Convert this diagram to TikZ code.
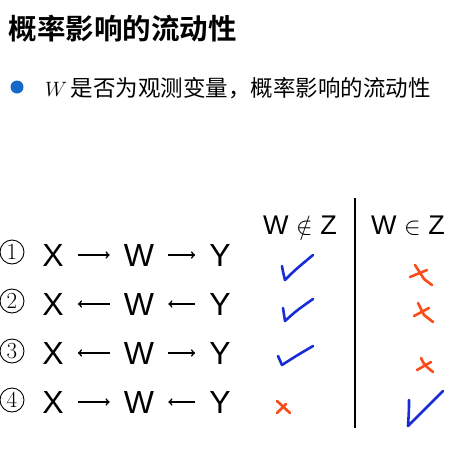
\documentclass[tikz,border=0pt]{standalone}
\usepackage{fontspec}
\setsansfont{Liberation Sans}
\newfontfamily\cjk{Noto Sans CJK SC}[BoldFont={Noto Sans CJK SC Bold}]
\definecolor{tickblue}{RGB}{25,45,215}
\definecolor{crossred}{RGB}{250,75,25}
\definecolor{dotblue}{RGB}{20,105,200}
\tikzset{
  var/.style={font=\sffamily\fontsize{32}{32}\selectfont, inner sep=1pt},
  rowno/.style={draw, circle, line width=0.9pt, minimum size=24pt, inner sep=0pt, font=\rmfamily\fontsize{23}{23}\selectfont},
  flow/.style={->, line width=1.6pt, shorten <=13pt, shorten >=13pt},
  colhead/.style={font=\sffamily\fontsize{27}{27}\selectfont},
  tick/.style={draw=tickblue, line width=2.6pt, line cap=round, line join=round},
  cross/.style={draw=crossred, line width=2.6pt, line cap=round},
}
\begin{document}
\begin{tikzpicture}[x=1pt,y=-1pt]
\useasboundingbox (0,0) rectangle (469,453);
\fill[white] (0,0) rectangle (469,453);

\path (123,29) node (title) {\cjk\bfseries\fontsize{28.5}{30}\selectfont 概率影响的流动性};
\fill[dotblue] (17,87) circle (6.5);
\path (238,88) node (sub) {\fontsize{22.5}{24}\selectfont $W$\,\cjk 是否为观测变量，概率影响的流动性};

% column heads and the rule between them
\path (300,226) node[colhead] (h1) {W $\notin$ Z};
\path (408,226) node[colhead] (h2) {W $\in$ Z};
\draw[line width=1.6pt] (355,198) -- (355,428);

% rows
\path (12,252) node[rowno] (n1) {1};
\path (53,255) node[var] (x1) {X};
\path (139,255) node[var] (w1) {W};
\path (220,255) node[var] (y1) {Y};
\draw[flow] (x1) -- (w1);
\draw[flow] (w1) -- (y1);

\path (12,301) node[rowno] (n2) {2};
\path (53,304) node[var] (x2) {X};
\path (139,304) node[var] (w2) {W};
\path (220,304) node[var] (y2) {Y};
\draw[flow] (w2) -- (x2);
\draw[flow] (y2) -- (w2);

\path (12,351) node[rowno] (n3) {3};
\path (53,353) node[var] (x3) {X};
\path (139,353) node[var] (w3) {W};
\path (220,353) node[var] (y3) {Y};
\draw[flow] (w3) -- (x3);
\draw[flow] (w3) -- (y3);

\path (12,400) node[rowno] (n4) {4};
\path (53,402) node[var] (x4) {X};
\path (139,402) node[var] (w4) {W};
\path (220,402) node[var] (y4) {Y};
\draw[flow] (x4) -- (w4);
\draw[flow] (y4) -- (w4);

% marks, W not in Z
\draw[tick] (282,266) .. controls (283,272) .. (285,280) .. controls (295,270) .. (313,255);
\draw[tick] (283,308) .. controls (284,314) .. (285,321) .. controls (296,311) .. (313,299);
\draw[tick] (278,356) .. controls (280,360) .. (282,365) .. controls (296,356) .. (313,346);
\draw[cross] (277,401) -- (290,413);
\draw[cross] (277,413) -- (286,404);

% marks, W in Z
\draw[cross] (415,265) .. controls (419,272) .. (424,279) -- (432,285);
\draw[cross] (410,277) -- (427,270);
\draw[cross] (418,303) .. controls (421,309) .. (424,315) -- (433,322);
\draw[cross] (414,316) -- (429,308);
\draw[cross] (421,358) .. controls (424,364) .. (427,367) -- (433,372);
\draw[cross] (417,370) -- (431,362);
\draw[tick] (409,400) .. controls (409,410) .. (408,426) .. controls (422,412) .. (443,391);
\end{tikzpicture}
\end{document}
